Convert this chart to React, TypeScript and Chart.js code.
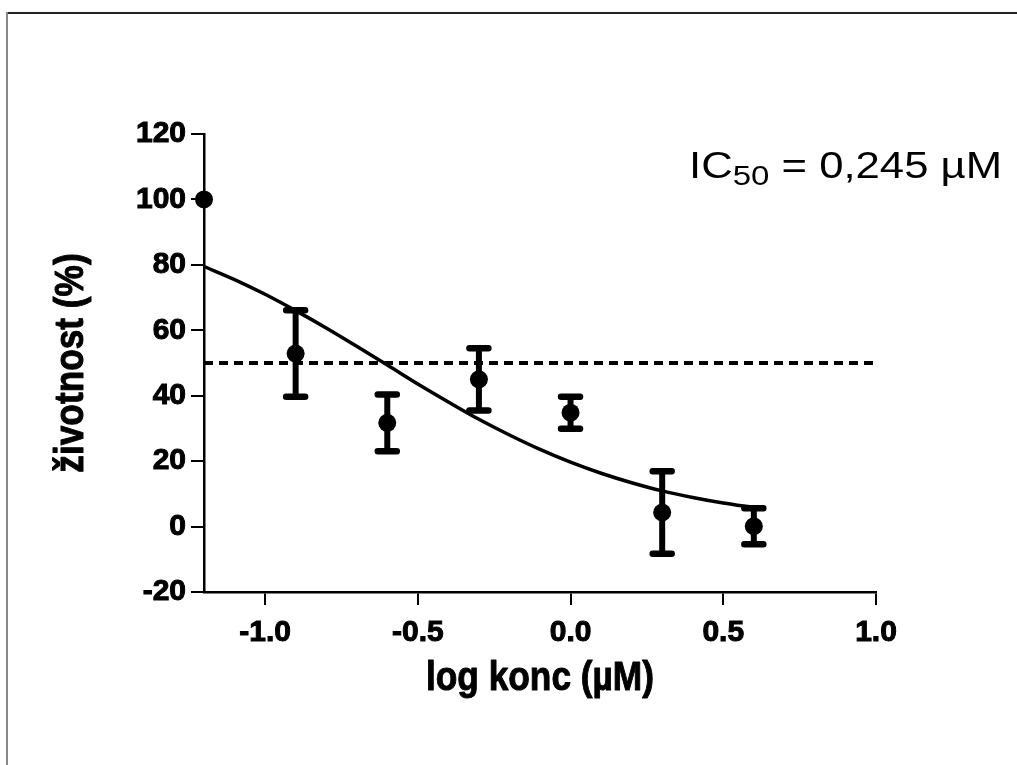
import React, { useEffect, useRef } from "react";
import { Chart, registerables } from "chart.js";

Chart.register(...registerables);

const FONT = "'Liberation Sans', Arial, sans-serif";

const X_TICKS = [-1.0, -0.5, 0.0, 0.5, 1.0];
const X_MIN = -1.2;
const X_MAX = 1.0;
const Y_MIN = -20;
const Y_MAX = 120;
const Y_STEP = 20;

const DOSE_X = [-1.2, -0.9, -0.6, -0.3, 0.0, 0.3, 0.6];
const MEAN_Y = [100, 52.9, 31.7, 45.0, 34.8, 4.3, 0.1];
const SD_Y = [0, 13.2, 8.7, 9.5, 4.9, 12.6, 5.5];

const CURVE_X = [-1.2, -1.1, -1.0, -0.9, -0.8, -0.7, -0.6, -0.5, -0.4, -0.3, -0.2, -0.1, 0.0, 0.1, 0.2, 0.3, 0.4, 0.5, 0.6];
const CURVE_Y = [79.5, 75.5, 71.0, 66.0, 60.7, 55.1, 49.4, 43.6, 38.1, 32.8, 28.0, 23.6, 19.7, 16.3, 13.4, 10.9, 8.9, 7.2, 5.8];

const HALF_X = [-1.2, 1.0];
const HALF_Y = [50, 50];

const X_TITLE = "log konc (µM)";
const Y_TITLE = "životnost (%)";
const IC_MAIN = "IC";
const IC_SUB = "50";
const IC_REST = " = 0,245 µM";

const errorBarPlugin = {
  id: "errorBars",
  afterDatasetsDraw(chart: any) {
    const ctx = chart.ctx;
    const xs = chart.scales.x;
    const ys = chart.scales.y;
    ctx.save();
    ctx.strokeStyle = "#000";
    DOSE_X.forEach((xv, i) => {
      const sd = SD_Y[i];
      if (!sd) return;
      const px = xs.getPixelForValue(xv);
      const top = ys.getPixelForValue(MEAN_Y[i] + sd);
      const bot = ys.getPixelForValue(MEAN_Y[i] - sd);
      ctx.lineWidth = 6;
      ctx.lineCap = "butt";
      ctx.beginPath();
      ctx.moveTo(px, top);
      ctx.lineTo(px, bot);
      ctx.stroke();
      ctx.lineWidth = 6.5;
      ctx.lineCap = "round";
      ctx.beginPath();
      ctx.moveTo(px - 9.5, top);
      ctx.lineTo(px + 9.5, top);
      ctx.moveTo(px - 9.5, bot);
      ctx.lineTo(px + 9.5, bot);
      ctx.stroke();
    });
    ctx.restore();
  },
};

const textPlugin = {
  id: "texts",
  afterDraw(chart: any) {
    const ctx = chart.ctx;
    const ca = chart.chartArea;
    ctx.save();
    ctx.fillStyle = "#000";
    ctx.strokeStyle = "#000";
    ctx.lineWidth = 1;
    ctx.lineJoin = "round";
    ctx.textBaseline = "alphabetic";
    ctx.font = `bold 41px ${FONT}`;
    ctx.textAlign = "center";
    ctx.save();
    ctx.translate((ca.left + ca.right) / 2, 690);
    ctx.scale(0.86, 1);
    ctx.fillText(X_TITLE, 0, 0);
    ctx.strokeText(X_TITLE, 0, 0);
    ctx.restore();
    ctx.save();
    ctx.translate(83, (ca.top + ca.bottom) / 2);
    ctx.rotate(-Math.PI / 2);
    ctx.scale(0.86, 1);
    ctx.fillText(Y_TITLE, 0, 0);
    ctx.strokeText(Y_TITLE, 0, 0);
    ctx.restore();

    ctx.save();
    ctx.translate(689, 178);
    ctx.scale(1.18, 1);
    ctx.textAlign = "left";
    ctx.font = `37px ${FONT}`;
    ctx.fillText(IC_MAIN, 0, 0);
    let w = ctx.measureText(IC_MAIN).width;
    ctx.font = `28px ${FONT}`;
    ctx.fillText(IC_SUB, w, 7);
    w += ctx.measureText(IC_SUB).width;
    ctx.font = `37px ${FONT}`;
    ctx.fillText(IC_REST, w, 0);
    ctx.restore();
    ctx.restore();
  },
};

export default function App() {
  const ref = useRef<HTMLCanvasElement | null>(null);
  useEffect(() => {
    if (!ref.current) return;
    const chart = new Chart(ref.current, {
      type: "line",
      data: {
        datasets: [
          {
            label: "fit",
            data: CURVE_X.map((x, i) => ({ x, y: CURVE_Y[i] })),
            borderColor: "#000",
            borderWidth: 3.5,
            pointRadius: 0,
            cubicInterpolationMode: "monotone",
            fill: false,
            clip: false as any,
          },
          {
            label: "50%",
            data: HALF_X.map((x, i) => ({ x, y: HALF_Y[i] })),
            borderColor: "#000",
            borderWidth: 4,
            borderDash: [9, 6],
            pointRadius: 0,
            fill: false,
            clip: false as any,
          },
          {
            label: "data",
            data: DOSE_X.map((x, i) => ({ x, y: MEAN_Y[i] })),
            showLine: false,
            pointRadius: 9,
            pointBackgroundColor: "#000",
            pointBorderColor: "#000",
            pointBorderWidth: 0,
            clip: false as any,
          },
        ],
      },
      options: {
        responsive: false,
        animation: false,
        events: [],
        layout: { padding: { left: 0, top: 134, right: 141, bottom: 93 } },
        plugins: {
          legend: { display: false },
          tooltip: { enabled: false },
          title: { display: false },
        },
        scales: {
          x: {
            type: "linear",
            min: X_MIN,
            max: X_MAX,
            afterBuildTicks(scale: any) {
              scale.ticks = X_TICKS.map((v) => ({ value: v }));
            },
            afterFit(scale: any) {
              scale.height = 80;
            },
            ticks: {
              color: "#000",
              font: { family: FONT, size: 30, weight: "bold" },
              textStrokeColor: "#000",
              textStrokeWidth: 1,
              padding: 10,
              maxRotation: 0,
              minRotation: 0,
              autoSkip: false,
              callback: (v: any) => Number(v).toFixed(1),
            },
            grid: { drawOnChartArea: false, drawTicks: true, tickLength: 13, color: "#000", lineWidth: 2 },
            border: { display: true, color: "#000", width: 2.5 },
          },
          y: {
            type: "linear",
            min: Y_MIN,
            max: Y_MAX,
            afterFit(scale: any) {
              scale.width = 204;
            },
            ticks: {
              stepSize: Y_STEP,
              color: "#000",
              font: { family: FONT, size: 30, weight: "bold" },
              textStrokeColor: "#000",
              textStrokeWidth: 1,
              padding: 5,
            },
            grid: { drawOnChartArea: false, drawTicks: true, tickLength: 13, color: "#000", lineWidth: 2 },
            border: { display: true, color: "#000", width: 2.5 },
          },
        },
      } as any,
      plugins: [errorBarPlugin, textPlugin],
    });
    return () => chart.destroy();
  }, []);

  return (
    <div>
      <div style={{ position: "fixed", left: 0, top: 0, width: 1017, height: 765, background: "#fff" }}>
        <canvas ref={ref} width={1017} height={765} style={{ display: "block" }} />
      </div>
      <div style={{ position: "fixed", left: 7, top: 12, width: 1010, height: 1.5, background: "#222" }} />
      <div style={{ position: "fixed", left: 6, top: 12, width: 2, height: 753, background: "#888" }} />
    </div>
  );
}
